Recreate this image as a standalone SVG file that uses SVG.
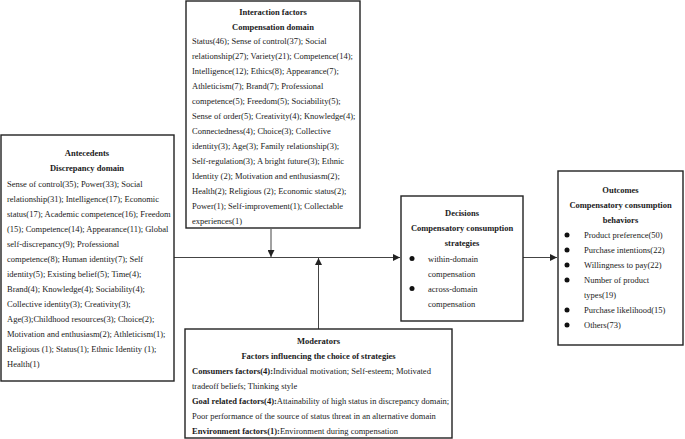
<svg xmlns="http://www.w3.org/2000/svg" width="685" height="439" viewBox="0 0 685 439" font-family="Liberation Serif, Times New Roman, serif" font-size="8.5">
<defs>
<style>
.box{fill:#fff;stroke:#222;stroke-width:1.4}
text{fill:#1a1a1a}
.h{font-weight:bold;text-anchor:middle}
.b{font-weight:bold}
.ln{stroke:#444;stroke-width:1;fill:none}
.dot{fill:#111}
</style>
<marker id="ah" viewBox="0 0 10 10" refX="10" refY="5" markerWidth="7" markerHeight="7" orient="auto" markerUnits="userSpaceOnUse">
<path d="M0,0 L10,5 L0,10 z" fill="#222"/>
</marker>
</defs>
<rect width="685" height="439" fill="#fff"/>

<g id="connectors">
<line class="ln" x1="174" y1="257.5" x2="400" y2="257.5" marker-end="url(#ah)"/>
<line class="ln" x1="523" y1="257.5" x2="557" y2="257.5" marker-end="url(#ah)"/>
<line class="ln" x1="271" y1="229" x2="271" y2="257" marker-end="url(#ah)"/>
<line class="ln" x1="318.5" y1="329" x2="318.5" y2="258" marker-end="url(#ah)"/>
</g>

<g id="interaction">
<rect class="box" x="186" y="1" width="174" height="227"/>
<text class="h" x="273" y="15">Interaction factors</text>
<text class="h" x="273" y="30">Compensation domain</text>
<text x="192" y="44">Status(46); Sense of control(37); Social</text>
<text x="192" y="59">relationship(27); Variety(21); Competence(14);</text>
<text x="192" y="74">Intelligence(12); Ethics(8); Appearance(7);</text>
<text x="192" y="89">Athleticism(7); Brand(7); Professional</text>
<text x="192" y="104">competence(5); Freedom(5); Sociability(5);</text>
<text x="192" y="119">Sense of order(5); Creativity(4); Knowledge(4);</text>
<text x="192" y="134">Connectedness(4); Choice(3); Collective</text>
<text x="192" y="149">identity(3); Age(3); Family relationship(3);</text>
<text x="192" y="164">Self-regulation(3); A bright future(3); Ethnic</text>
<text x="192" y="179">Identity (2); Motivation and enthusiasm(2);</text>
<text x="192" y="194">Health(2); Religious (2); Economic status(2);</text>
<text x="192" y="209">Power(1); Self-improvement(1); Collectable</text>
<text x="192" y="224">experiences(1)</text>
</g>

<g id="antecedents">
<rect class="box" x="1" y="135" width="173" height="246"/>
<text class="h" x="87" y="156">Antecedents</text>
<text class="h" x="87" y="171">Discrepancy domain</text>
<text x="7" y="186.5">Sense of control(35); Power(33); Social</text>
<text x="7" y="201.5">relationship(31); Intelligence(17); Economic</text>
<text x="7" y="216.5">status(17); Academic competence(16); Freedom</text>
<text x="7" y="231.5">(15); Competence(14); Appearance(11); Global</text>
<text x="7" y="246.5">self-discrepancy(9); Professional</text>
<text x="7" y="261.5">competence(8); Human identity(7); Self</text>
<text x="7" y="276.5">identity(5); Existing belief(5); Time(4);</text>
<text x="7" y="291.5">Brand(4); Knowledge(4); Sociability(4);</text>
<text x="7" y="306.5">Collective identity(3); Creativity(3);</text>
<text x="7" y="321.5">Age(3);Childhood resources(3); Choice(2);</text>
<text x="7" y="336.5">Motivation and enthusiasm(2); Athleticism(1);</text>
<text x="7" y="351.5">Religious (1); Status(1); Ethnic Identity (1);</text>
<text x="7" y="366.5">Health(1)</text>
</g>

<g id="decisions">
<rect class="box" x="401" y="196" width="122" height="125"/>
<text class="h" x="462" y="216">Decisions</text>
<text class="h" x="462" y="231">Compensatory consumption</text>
<text class="h" x="462" y="246">strategies</text>
<circle class="dot" cx="412" cy="258.5" r="2.5"/>
<text x="428" y="261.5">within-domain</text>
<text x="428" y="276.5">compensation</text>
<circle class="dot" cx="412" cy="288.5" r="2.5"/>
<text x="428" y="291.5">across-domain</text>
<text x="428" y="306.5">compensation</text>
</g>

<g id="outcomes">
<rect class="box" x="558" y="171" width="125" height="174"/>
<text class="h" x="620.5" y="192.5">Outcomes</text>
<text class="h" x="620.5" y="207.5">Compensatory consumption</text>
<text class="h" x="620.5" y="222.5">behaviors</text>
<circle class="dot" cx="567" cy="235" r="2.5"/>
<text x="584" y="238">Product preference(50)</text>
<circle class="dot" cx="567" cy="250" r="2.5"/>
<text x="584" y="253">Purchase intentions(22)</text>
<circle class="dot" cx="567" cy="265" r="2.5"/>
<text x="584" y="268">Willingness to pay(22)</text>
<circle class="dot" cx="567" cy="280" r="2.5"/>
<text x="584" y="283">Number of product</text>
<text x="584" y="297.5">types(19)</text>
<circle class="dot" cx="567" cy="310" r="2.5"/>
<text x="584" y="313">Purchase likelihood(15)</text>
<circle class="dot" cx="567" cy="325" r="2.5"/>
<text x="584" y="328">Others(73)</text>
</g>

<g id="moderators">
<rect class="box" x="185" y="329" width="267" height="109"/>
<text class="h" x="318.5" y="344">Moderators</text>
<text class="h" x="318.5" y="359">Factors influencing the choice of strategies</text>
<text x="192" y="374"><tspan class="b">Consumers factors(4):</tspan>Individual motivation; Self-esteem; Motivated</text>
<text x="192" y="389">tradeoff beliefs; Thinking style</text>
<text x="192" y="404"><tspan class="b">Goal related factors(4):</tspan>Attainability of high status in discrepancy domain;</text>
<text x="192" y="419">Poor performance of the source of status threat in an alternative domain</text>
<text x="192" y="433.5"><tspan class="b">Environment factors(1):</tspan>Environment during compensation</text>
</g>
</svg>
